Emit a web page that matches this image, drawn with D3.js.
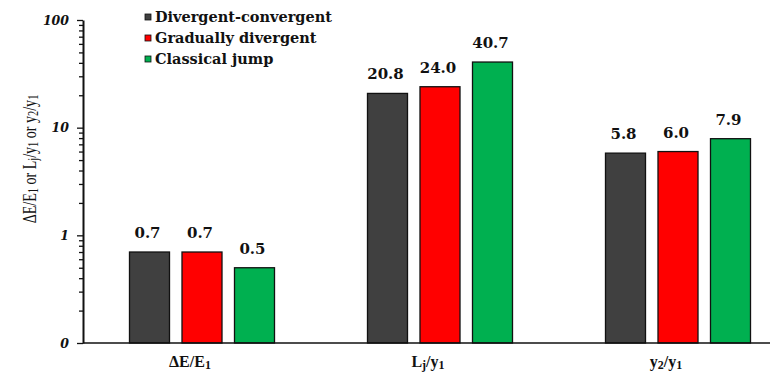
<!DOCTYPE html>
<html>
<head>
<meta charset="utf-8">
<script src="https://cdn.jsdelivr.net/npm/d3@7/dist/d3.min.js"></script>
<style>
  html, body { margin: 0; padding: 0; background: #fff; }
  svg { display: block; }
</style>
</head>
<body>
<svg id="chart" width="770" height="376"></svg>
<script>
// Ratio categories ("_x" marks a subscript character)
const categories = ["ΔE/E_1", "L_j/y_1", "y_2/y_1"];

// Jump types
const seriesNames = ["Divergent-convergent", "Gradually divergent", "Classical jump"];
const seriesColors = ["#404040", "#ff0000", "#00b050"];

// Values per category, one array per jump type
const divergentConvergent = [0.7, 20.8, 5.8];
const graduallyDivergent  = [0.7, 24.0, 6.0];
const classicalJump       = [0.5, 40.7, 7.9];
const seriesValues = [divergentConvergent, graduallyDivergent, classicalJump];

// Logarithmic y axis, lowest decade labelled "0"
const yTickValues = [0.1, 1, 10, 100];
const yTickLabels = ["0", "1", "10", "100"];

const svg = d3.select("#chart");
const plotLeft = 83, plotBottom = 343, plotTop = 20;

const x0 = d3.scaleBand().domain(categories).range([plotLeft, 797]).padding(0);
const x1 = d3.scaleBand().domain(d3.range(seriesNames.length))
  .range([-78.75, 78.75]).paddingInner(0.238).paddingOuter(0.119);
const y = d3.scaleLog().domain([0.1, 100]).range([plotBottom, plotTop]);

const serif = "'DejaVu Serif', serif";
const times = "'Liberation Serif', serif";

// Append text with "_x" subscripts into a text element
function richText(sel, str, subSize) {
  const parts = str.split(/_(.)/);
  parts.forEach((p, i) => {
    if (!p) return;
    const t = sel.append("tspan").text(p);
    if (i % 2 === 1) t.attr("font-size", subSize).attr("baseline-shift", "-20%");
  });
}

// Bars
const rows = categories.map((c, ci) => seriesValues.map((vals, si) => ({ c, si, v: vals[ci] })));
const groups = svg.append("g").selectAll("g").data(rows).join("g")
  .attr("transform", (d, i) => `translate(${x0(categories[i]) + x0.bandwidth() / 2},0)`);

groups.selectAll("rect").data(d => d).join("rect")
  .attr("x", d => x1(d.si))
  .attr("y", d => y(d.v))
  .attr("width", x1.bandwidth())
  .attr("height", d => plotBottom - y(d.v))
  .attr("fill", d => seriesColors[d.si])
  .attr("stroke", "#111")
  .attr("stroke-width", 1.3);

groups.selectAll("text").data(d => d).join("text")
  .attr("x", d => x1(d.si) + x1.bandwidth() / 2 - 2)
  .attr("y", d => y(d.v) - 14)
  .attr("text-anchor", "middle")
  .attr("font-family", serif)
  .attr("font-weight", "bold")
  .attr("font-size", 15)
  .attr("fill", "#111")
  .text(d => d.v.toFixed(1));

// Y axis: minor ticks then major ticks with labels
const minorTicks = [];
[0.1, 1, 10].forEach(dec => { for (let k = 2; k <= 9; k++) minorTicks.push(dec * k); });

const yMinor = svg.append("g").attr("transform", `translate(${plotLeft},0)`)
  .call(d3.axisLeft(y).tickValues(minorTicks).tickSize(4).tickFormat(""));
yMinor.select(".domain").remove();

const yMajor = svg.append("g").attr("transform", `translate(${plotLeft},0)`)
  .call(d3.axisLeft(y).tickValues(yTickValues).tickSize(6).tickSizeOuter(0).tickPadding(8)
    .tickFormat((d, i) => yTickLabels[i]));
yMajor.select(".domain").attr("stroke-width", 2).attr("stroke", "#111");
yMajor.selectAll("text")
  .attr("font-family", serif).attr("font-weight", "bold").attr("font-style", "italic")
  .attr("font-size", 12.5).attr("fill", "#111");
svg.selectAll(".tick line").attr("stroke", "#111").attr("stroke-width", 1.3);

// X axis line and category labels
svg.append("line")
  .attr("x1", plotLeft).attr("x2", 770).attr("y1", plotBottom).attr("y2", plotBottom)
  .attr("stroke", "#111").attr("stroke-width", 1.5);

categories.forEach(c => {
  const t = svg.append("text")
    .attr("x", x0(c) + x0.bandwidth() / 2 - 12)
    .attr("y", 367)
    .attr("text-anchor", "middle")
    .attr("font-family", times)
    .attr("font-weight", "bold")
    .attr("font-size", 16)
    .attr("fill", "#111");
  richText(t, c, 12);
});

// Y axis title (narrowed along its run)
const yTitle = svg.append("text")
  .attr("transform", "translate(36,159) rotate(-90) scale(0.74,1)")
  .attr("text-anchor", "middle")
  .attr("font-family", times)
  .attr("font-size", 19)
  .attr("fill", "#111");
richText(yTitle, "ΔE/E_1 or L_j/y_1 or y_2/y_1", 14);

// Legend
const legend = svg.append("g").attr("transform", "translate(145,0)");
seriesNames.forEach((name, i) => {
  const ly = 17 + i * 21;
  legend.append("rect")
    .attr("x", 0).attr("y", ly - 3).attr("width", 6).attr("height", 6)
    .attr("fill", seriesColors[i]).attr("stroke", "#111").attr("stroke-width", 0.8);
  legend.append("text")
    .attr("x", 10).attr("y", ly + 5)
    .attr("font-family", serif)
    .attr("font-weight", "bold")
    .attr("font-size", 14.5)
    .attr("fill", "#111")
    .text(name);
});
</script>
</body>
</html>
